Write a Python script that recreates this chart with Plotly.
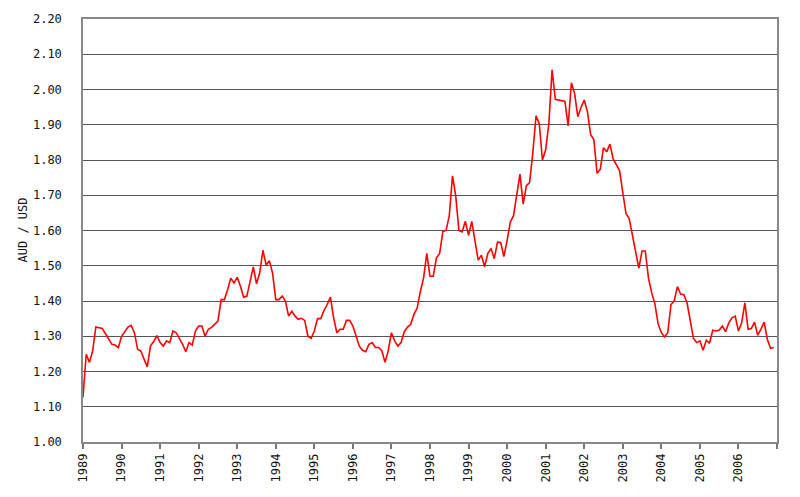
import plotly.graph_objects as go

start_year = 1989
years = list(range(1989, 2008))
year_labels = [str(y) for y in range(1989, 2007)] + [""]
y_ticks = [1.00, 1.10, 1.20, 1.30, 1.40, 1.50, 1.60, 1.70, 1.80, 1.90, 2.00, 2.10, 2.20]

# Monthly AUD / USD, Jan 1989 .. Dec 2006
aud_usd = [
    1.127, 1.249, 1.226, 1.258, 1.326, 1.323, 1.322, 1.307, 1.291, 1.277, 1.275, 1.268,  # 1989
    1.300, 1.313, 1.326, 1.331, 1.310, 1.263, 1.258, 1.235, 1.213, 1.272, 1.285, 1.302,  # 1990
    1.282, 1.272, 1.287, 1.282, 1.315, 1.310, 1.294, 1.277, 1.256, 1.282, 1.275, 1.315,  # 1991
    1.329, 1.329, 1.300, 1.320, 1.325, 1.334, 1.343, 1.404, 1.404, 1.432, 1.465, 1.451,  # 1992
    1.467, 1.442, 1.411, 1.414, 1.455, 1.497, 1.449, 1.480, 1.544, 1.502, 1.514, 1.479,  # 1993
    1.404, 1.404, 1.414, 1.400, 1.357, 1.371, 1.357, 1.348, 1.351, 1.345, 1.300, 1.294,  # 1994
    1.315, 1.350, 1.350, 1.373, 1.390, 1.411, 1.353, 1.310, 1.320, 1.320, 1.345, 1.345,  # 1995
    1.329, 1.300, 1.272, 1.260, 1.256, 1.277, 1.282, 1.268, 1.268, 1.259, 1.226, 1.259,  # 1996
    1.310, 1.287, 1.272, 1.282, 1.313, 1.326, 1.334, 1.362, 1.380, 1.427, 1.465, 1.535,  # 1997
    1.470, 1.470, 1.522, 1.535, 1.597, 1.600, 1.642, 1.755, 1.699, 1.600, 1.596, 1.626,  # 1998
    1.586, 1.626, 1.572, 1.516, 1.530, 1.497, 1.535, 1.549, 1.520, 1.567, 1.566, 1.526,  # 1999
    1.572, 1.624, 1.642, 1.699, 1.760, 1.675, 1.727, 1.736, 1.820, 1.925, 1.904, 1.800,  # 2000
    1.829, 1.904, 2.056, 1.972, 1.970, 1.966, 1.966, 1.897, 2.019, 1.989, 1.923, 1.949,  # 2001
    1.970, 1.937, 1.872, 1.858, 1.762, 1.774, 1.835, 1.823, 1.845, 1.803, 1.785, 1.770,  # 2002
    1.708, 1.648, 1.634, 1.587, 1.530, 1.493, 1.542, 1.542, 1.465, 1.423, 1.392, 1.335,  # 2003
    1.310, 1.298, 1.310, 1.390, 1.400, 1.441, 1.420, 1.418, 1.395, 1.343, 1.294, 1.282,  # 2004
    1.287, 1.260, 1.289, 1.280, 1.317, 1.315, 1.317, 1.329, 1.313, 1.338, 1.352, 1.357,  # 2005
    1.315, 1.338, 1.395, 1.320, 1.322, 1.340, 1.303, 1.320, 1.340, 1.291, 1.266, 1.268,  # 2006
]

x_vals = [start_year + i / 12 for i in range(len(aud_usd))]

FONT = "DejaVu Sans Mono"

fig = go.Figure()
fig.add_trace(go.Scatter(
    x=x_vals, y=aud_usd, mode="lines",
    line=dict(color="#ff0000", width=1.6),
    hoverinfo="skip", showlegend=False,
))

fig.update_layout(
    width=800, height=497,
    margin=dict(l=83, r=23, t=15, b=55),
    paper_bgcolor="white", plot_bgcolor="white",
    font=dict(family=FONT, size=12, color="#111"),
    showlegend=False,
    annotations=[dict(
        text="AUD / USD", xref="paper", yref="paper",
        x=(22 - 83) / 694, y=0.5, textangle=-90, showarrow=False,
        font=dict(family=FONT, size=12, color="#111"),
        xanchor="center", yanchor="middle",
    )],
)

fig.update_xaxes(
    range=[1989, 2007], tickmode="array", tickvals=years, ticktext=year_labels,
    tickangle=-90, ticks="outside", ticklen=5, tickcolor="#777", tickwidth=1.5,
    showgrid=False, zeroline=False,
    showline=True, linecolor="#888", linewidth=1.5, mirror=True,
    tickfont=dict(family=FONT, size=12, color="#111"),
)
fig.update_yaxes(
    range=[1.0, 2.2], tickmode="array", tickvals=y_ticks,
    ticktext=[f"{v:.2f}" for v in y_ticks],
    ticks="outside", ticklen=17, tickcolor="rgba(0,0,0,0)",
    showgrid=True, gridcolor="#555", gridwidth=1.3, zeroline=False,
    showline=True, linecolor="#888", linewidth=1.5, mirror=True,
    tickfont=dict(family=FONT, size=12, color="#111"),
)

fig.write_html("out.html")
